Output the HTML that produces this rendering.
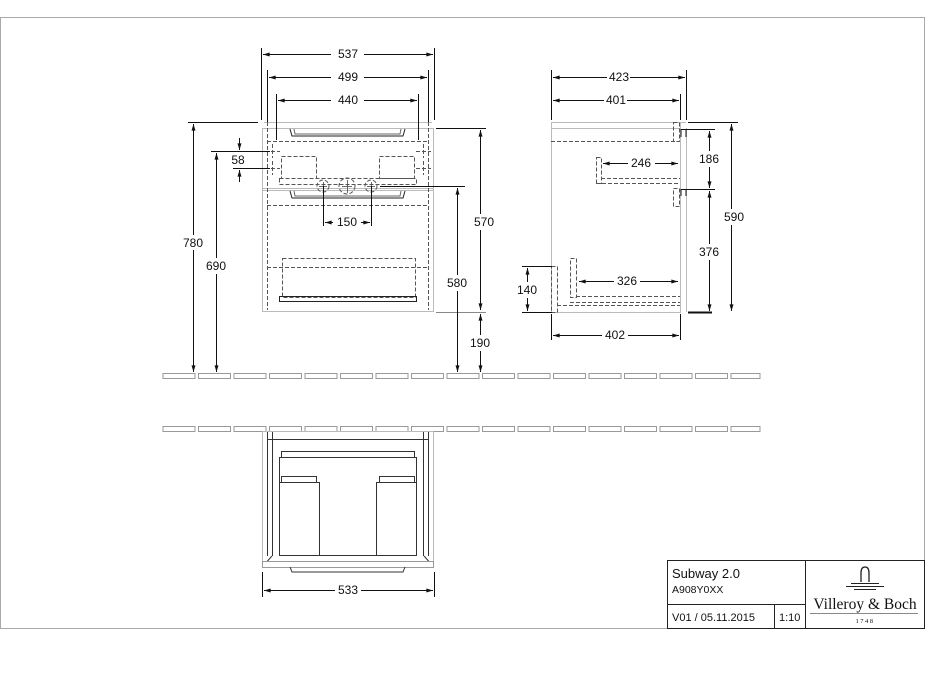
<!DOCTYPE html>
<html><head><meta charset="utf-8"><style>
html,body{margin:0;padding:0;background:#fff}
svg{display:block}
text{font-family:"Liberation Sans",sans-serif;font-size:12px;fill:#111}
</style></head><body>
<svg width="928" height="697" viewBox="0 0 928 697" xmlns="http://www.w3.org/2000/svg">
<defs>
<marker id="a" viewBox="0 0 10 6" refX="10" refY="3" markerWidth="7" markerHeight="4" orient="auto-start-reverse"><path d="M0,0 L10,3 L0,6 z" fill="#111"/></marker>
<g id="tiles">
<rect x="163" y="0" width="32" height="5"/><rect x="198.5" y="0" width="32" height="5"/><rect x="234" y="0" width="32" height="5"/><rect x="269.5" y="0" width="32" height="5"/><rect x="305" y="0" width="32" height="5"/><rect x="340.5" y="0" width="32" height="5"/><rect x="376" y="0" width="32" height="5"/><rect x="411.5" y="0" width="32" height="5"/><rect x="447" y="0" width="32" height="5"/><rect x="482.5" y="0" width="32" height="5"/><rect x="518" y="0" width="32" height="5"/><rect x="553.5" y="0" width="32" height="5"/><rect x="589" y="0" width="32" height="5"/><rect x="624.5" y="0" width="32" height="5"/><rect x="660" y="0" width="32" height="5"/><rect x="695.5" y="0" width="32" height="5"/><rect x="731" y="0" width="29" height="5"/>
</g>
</defs>
<rect x="0.5" y="17.5" width="924" height="611" fill="none" stroke="#aaa"/>

<g fill="none" stroke="#999" stroke-width="1">
<use href="#tiles" y="373.5"/>
<use href="#tiles" y="426.5"/>
</g>

<!-- FRONT VIEW -->
<g fill="none" stroke="#bbb" stroke-width="1">
<rect x="262.5" y="128.5" width="171" height="183"/>
<line x1="264" y1="122.5" x2="432" y2="122.5"/>
<line x1="262" y1="188.5" x2="434" y2="188.5"/>
<line x1="262" y1="190.5" x2="434" y2="190.5"/>
</g>
<g fill="none" stroke="#555" stroke-width="1" stroke-dasharray="4,2">
<line x1="267.5" y1="122" x2="267.5" y2="310"/>
<line x1="428.5" y1="122" x2="428.5" y2="310"/>
<line x1="267" y1="141.5" x2="429" y2="141.5"/>
<rect x="281.5" y="156.5" width="35" height="22"/>
<rect x="379.5" y="156.5" width="35" height="22"/>
<rect x="279.5" y="178.5" width="137" height="6"/>
<line x1="267" y1="205.5" x2="429" y2="205.5"/>
<rect x="282.5" y="258.5" width="133" height="39"/>
<line x1="267" y1="267.5" x2="429" y2="267.5"/>
<circle cx="323" cy="186" r="6"/><circle cx="347" cy="186" r="8"/><circle cx="371" cy="186" r="6"/>
<line x1="265" y1="151.5" x2="280" y2="151.5"/><line x1="272.5" y1="144" x2="272.5" y2="158"/>
<line x1="265" y1="168.5" x2="280" y2="168.5"/><line x1="272.5" y1="161" x2="272.5" y2="175"/>
<line x1="416" y1="151.5" x2="431" y2="151.5"/><line x1="423.5" y1="144" x2="423.5" y2="158"/>
<line x1="416" y1="168.5" x2="431" y2="168.5"/><line x1="423.5" y1="161" x2="423.5" y2="175"/>
</g>
<g fill="none" stroke="#444" stroke-width="0.8">
<line x1="319" y1="186.5" x2="327" y2="186.5"/><line x1="323.5" y1="182" x2="323.5" y2="190"/>
<line x1="342" y1="186.5" x2="352" y2="186.5"/><line x1="347.5" y1="180" x2="347.5" y2="193"/>
<line x1="367" y1="186.5" x2="375" y2="186.5"/><line x1="371.5" y1="182" x2="371.5" y2="190"/>
</g>
<g fill="none" stroke="#222" stroke-width="1">
<rect x="279.5" y="296.5" width="137" height="5"/>
<path d="M290,129 L292,136 L403,136 L405,129"/>
<path d="M290,191 L292,198 L403,198 L405,191"/>
<path d="M294,129 L295,134 L400,134 L401,129" stroke="#666"/>
<path d="M294,191 L295,196 L400,196 L401,191" stroke="#666"/>
</g>
<g stroke="#111" stroke-width="1" fill="none">
<line x1="261.5" y1="48" x2="261.5" y2="120"/><line x1="434.5" y1="48" x2="434.5" y2="120"/>
<line x1="263" y1="54.5" x2="331" y2="54.5" marker-start="url(#a)"/><line x1="364" y1="54.5" x2="433" y2="54.5" marker-end="url(#a)"/>
<line x1="267.5" y1="70" x2="267.5" y2="122"/><line x1="428.5" y1="70" x2="428.5" y2="122"/>
<line x1="269" y1="77.5" x2="331" y2="77.5" marker-start="url(#a)"/><line x1="364" y1="77.5" x2="427" y2="77.5" marker-end="url(#a)"/>
<line x1="276.5" y1="94" x2="276.5" y2="140"/><line x1="418.5" y1="94" x2="418.5" y2="140"/>
<line x1="278" y1="100.5" x2="331" y2="100.5" marker-start="url(#a)"/><line x1="364" y1="100.5" x2="417" y2="100.5" marker-end="url(#a)"/>
<line x1="323.5" y1="186" x2="323.5" y2="226"/><line x1="371.5" y1="186" x2="371.5" y2="226"/>
<line x1="325" y1="222.5" x2="333" y2="222.5" marker-start="url(#a)"/><line x1="361" y1="222.5" x2="370" y2="222.5" marker-end="url(#a)"/>
<line x1="211" y1="151.5" x2="270" y2="151.5"/><line x1="233" y1="168.5" x2="270" y2="168.5"/>
<line x1="239.5" y1="138" x2="239.5" y2="150" marker-end="url(#a)"/><line x1="239.5" y1="182" x2="239.5" y2="170" marker-end="url(#a)"/>
<line x1="188" y1="122.5" x2="258" y2="122.5"/>
<line x1="193.5" y1="124" x2="193.5" y2="235" marker-start="url(#a)"/><line x1="193.5" y1="250" x2="193.5" y2="372" marker-end="url(#a)"/>
<line x1="216.5" y1="153" x2="216.5" y2="258" marker-start="url(#a)"/><line x1="216.5" y1="274" x2="216.5" y2="372" marker-end="url(#a)"/>
<line x1="436" y1="128.5" x2="486" y2="128.5"/><line x1="436" y1="312.5" x2="486" y2="312.5" stroke="#888"/>
<line x1="480.5" y1="130" x2="480.5" y2="214" marker-start="url(#a)"/><line x1="480.5" y1="230" x2="480.5" y2="310" marker-end="url(#a)"/>
<line x1="380" y1="186.5" x2="465" y2="186.5"/>
<line x1="457.5" y1="188" x2="457.5" y2="275" marker-start="url(#a)"/><line x1="457.5" y1="291" x2="457.5" y2="372" marker-end="url(#a)"/>
<line x1="480.5" y1="314" x2="480.5" y2="335" marker-start="url(#a)"/><line x1="480.5" y1="351" x2="480.5" y2="372" marker-end="url(#a)"/>
</g>
<g text-anchor="middle">
<text x="348" y="58">537</text><text x="348" y="81">499</text><text x="348" y="104">440</text>
<text x="347" y="226">150</text><text x="238" y="164">58</text>
<text x="193" y="247">780</text><text x="216" y="270">690</text>
<text x="484" y="226">570</text><text x="457" y="287">580</text><text x="480" y="347">190</text>
</g>

<!-- SIDE VIEW -->
<g fill="none" stroke="#bbb">
<rect x="551.5" y="122.5" width="129" height="190"/>
<line x1="551" y1="128.5" x2="680" y2="128.5"/>
<line x1="686.5" y1="128" x2="686.5" y2="312"/>
<line x1="680" y1="122.5" x2="686" y2="122.5"/>
</g>
<g fill="none" stroke="#555" stroke-dasharray="4,2">
<line x1="551" y1="141.5" x2="675" y2="141.5"/>
<rect x="673.5" y="122.5" width="6" height="19"/>
<rect x="596.5" y="157.5" width="5" height="26"/>
<line x1="601" y1="178.5" x2="680" y2="178.5"/>
<line x1="596" y1="183.5" x2="680" y2="183.5"/>
<rect x="673.5" y="188.5" width="6" height="18"/>
<rect x="570.5" y="258.5" width="6" height="39"/>
<line x1="576" y1="296.5" x2="680" y2="296.5"/>
<line x1="570" y1="302.5" x2="680" y2="302.5"/>
<rect x="551.5" y="266.5" width="6" height="46"/>
<line x1="557" y1="305.5" x2="680" y2="305.5"/>
</g>
<g fill="none" stroke="#111">
<path d="M681,137 L681,129.5 L686,129.5 L686,137"/>
<path d="M681,196 L681,189.5 L686,189.5 L686,196"/>
<line x1="688" y1="312.5" x2="712" y2="312.5" stroke-width="2"/>
<line x1="551.5" y1="70" x2="551.5" y2="120"/><line x1="686.5" y1="70" x2="686.5" y2="120"/>
<line x1="553" y1="77.5" x2="607" y2="77.5" marker-start="url(#a)"/><line x1="630" y1="77.5" x2="685" y2="77.5" marker-end="url(#a)"/>
<line x1="680.5" y1="94" x2="680.5" y2="120"/>
<line x1="553" y1="100.5" x2="604" y2="100.5" marker-start="url(#a)"/><line x1="627" y1="100.5" x2="679" y2="100.5" marker-end="url(#a)"/>
<line x1="603" y1="163.5" x2="628" y2="163.5" marker-start="url(#a)"/><line x1="655" y1="163.5" x2="678" y2="163.5" marker-end="url(#a)"/>
<line x1="686" y1="129.5" x2="715" y2="129.5"/><line x1="686" y1="189.5" x2="715" y2="189.5"/>
<line x1="688" y1="122.5" x2="738" y2="122.5"/>
<line x1="709.5" y1="131" x2="709.5" y2="151" marker-start="url(#a)"/><line x1="709.5" y1="167" x2="709.5" y2="188" marker-end="url(#a)"/>
<line x1="709.5" y1="191" x2="709.5" y2="244" marker-start="url(#a)"/><line x1="709.5" y1="260" x2="709.5" y2="311" marker-end="url(#a)"/>
<line x1="731.5" y1="124" x2="731.5" y2="209" marker-start="url(#a)"/><line x1="731.5" y1="225" x2="731.5" y2="311" marker-end="url(#a)"/>
<line x1="579" y1="281.5" x2="614" y2="281.5" marker-start="url(#a)"/><line x1="640" y1="281.5" x2="678" y2="281.5" marker-end="url(#a)"/>
<line x1="522" y1="266.5" x2="552" y2="266.5"/><line x1="522" y1="312.5" x2="552" y2="312.5"/>
<line x1="527.5" y1="268" x2="527.5" y2="282" marker-start="url(#a)"/><line x1="527.5" y1="298" x2="527.5" y2="311" marker-end="url(#a)"/>
<line x1="551.5" y1="314" x2="551.5" y2="340"/><line x1="680.5" y1="314" x2="680.5" y2="340"/>
<line x1="553" y1="335.5" x2="602" y2="335.5" marker-start="url(#a)"/><line x1="628" y1="335.5" x2="679" y2="335.5" marker-end="url(#a)"/>
</g>
<g text-anchor="middle">
<text x="619" y="81">423</text><text x="616" y="104">401</text><text x="641" y="167">246</text>
<text x="709" y="163">186</text><text x="709" y="256">376</text><text x="734" y="221">590</text>
<text x="627" y="285">326</text><text x="527" y="294">140</text><text x="615" y="339">402</text>
</g>

<!-- BOTTOM VIEW -->
<g fill="none" stroke="#bbb">
<rect x="262.5" y="431.5" width="171" height="136"/>
</g>
<g fill="none" stroke="#333">
<line x1="267.5" y1="432" x2="267.5" y2="556"/><line x1="272.5" y1="432" x2="272.5" y2="556"/>
<line x1="423.5" y1="432" x2="423.5" y2="556"/><line x1="428.5" y1="432" x2="428.5" y2="556"/>
<line x1="267" y1="439.5" x2="429" y2="439.5"/>
<rect x="281.5" y="451.5" width="133" height="6"/>
<rect x="279.5" y="457.5" width="137" height="98"/>
<rect x="281.5" y="476.5" width="35" height="6"/>
<rect x="379.5" y="476.5" width="35" height="6"/>
<rect x="279.5" y="482.5" width="40" height="73"/>
<rect x="376.5" y="482.5" width="40" height="73"/>
<path d="M272,556 L267,561.5 L429,561.5 L424,556"/>
<rect x="262.5" y="561.5" width="171" height="6" stroke="#999"/>
<path d="M290,567 L292,572 L403,572 L405,567"/>
</g>
<g stroke="#111" fill="none">
<line x1="262.5" y1="572" x2="262.5" y2="597"/><line x1="434.5" y1="572" x2="434.5" y2="597"/>
<line x1="264" y1="590.5" x2="335" y2="590.5" marker-start="url(#a)"/><line x1="361" y1="590.5" x2="433" y2="590.5" marker-end="url(#a)"/>
</g>
<text x="348" y="594" text-anchor="middle">533</text>

<!-- TITLE BLOCK -->
<g fill="none" stroke="#222">
<rect x="667.5" y="560.5" width="257" height="68"/>
<line x1="805.5" y1="560" x2="805.5" y2="628"/>
<line x1="667" y1="604.5" x2="805" y2="604.5"/>
<line x1="774.5" y1="604" x2="774.5" y2="628"/>
<path d="M861,582 L861,573 Q861,567 865,567 Q869,567 869,573 L869,582" stroke-width="1.3"/>
<line x1="851" y1="583.5" x2="879" y2="583.5"/>
<line x1="846" y1="586.5" x2="884" y2="586.5"/>
<line x1="854" y1="589.5" x2="876" y2="589.5"/>
<line x1="810" y1="613.5" x2="918" y2="613.5" stroke="#888"/>
</g>
<text x="672" y="578" style="font-size:13px">Subway 2.0</text>
<text x="672" y="593" style="font-size:10.5px">A908Y0XX</text>
<text x="672" y="621" style="font-size:11px">V01 / 05.11.2015</text>
<text x="779" y="621" style="font-size:11px">1:10</text>
<text x="865" y="609" text-anchor="middle" style="font-family:'Liberation Serif',serif;font-size:15.5px">Villeroy &amp; Boch</text>
<text x="865" y="623" text-anchor="middle" style="font-family:'Liberation Serif',serif;font-size:6.5px;letter-spacing:1.5px">1748</text>
</svg>
</body></html>
